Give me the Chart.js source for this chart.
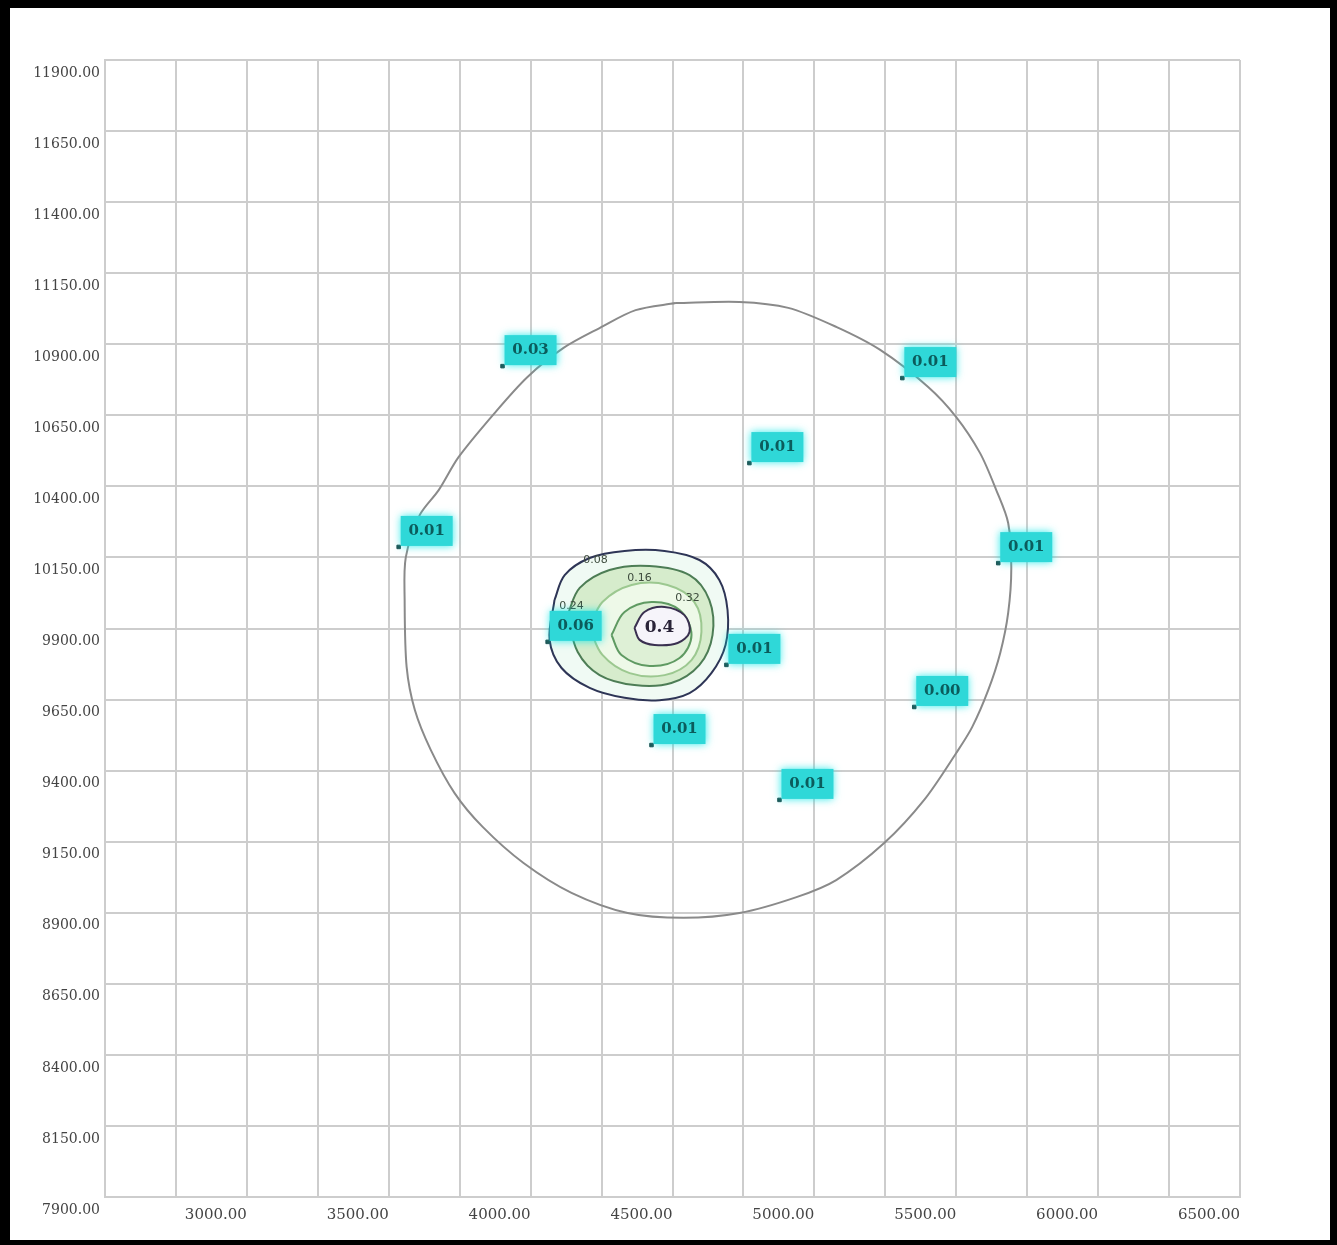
<!DOCTYPE html>
<html>
<head>
<meta charset="utf-8">
<script src="https://cdn.jsdelivr.net/npm/chart.js@4.4.0/dist/chart.umd.min.js"></script>
<style>
  html, body { margin: 0; padding: 0; background: #000; }
  #frame { position: absolute; left: 10px; top: 8px; width: 1320px; height: 1232px; background: #fff; }
</style>
</head>
<body>
<div id="frame"><canvas id="chart" width="1320" height="1232"></canvas></div>
<script>
// axis ranges and tick steps
const xMin = 2500, xMax = 6500, xStep = 250, xLabelStep = 500;
const yMin = 7900, yMax = 11900, yStep = 250;

// boundary circle
const circleX = [4511, 4736, 4908, 5077, 5232, 5401, 5500, 5584, 5641, 5683, 5694, 5683, 5655, 5613, 5556, 5500, 5387, 5246, 5077, 4937,
                 4736, 4539, 4342, 4144, 3975, 3831, 3732, 3648, 3592, 3563, 3556, 3560, 3609, 3676, 3746, 3873, 3989, 4116, 4243, 4370];
const circleY = [11045, 11049, 11028, 10961, 10880, 10750, 10644, 10517, 10387, 10271, 10113, 9955, 9814, 9684, 9553, 9462, 9297, 9145, 9015, 8955,
                 8899, 8882, 8899, 8970, 9075, 9202, 9321, 9473, 9613, 9765, 10000, 10150, 10299, 10387, 10503, 10658, 10785, 10887, 10957, 11020];

// contour rings, outer to inner
const ring1X = [4084, 4120, 4208, 4331, 4472, 4595, 4665, 4694, 4687, 4637, 4560, 4454, 4331, 4208, 4109, 4067];
const ring1Y = [10000, 10088, 10148, 10173, 10173, 10141, 10071, 9965, 9842, 9743, 9673, 9648, 9656, 9691, 9761, 9860];
const ring2X = [4130, 4173, 4278, 4419, 4560, 4630, 4641, 4595, 4496, 4366, 4243, 4166];
const ring2Y = [9947, 10043, 10106, 10120, 10088, 10000, 9877, 9772, 9708, 9701, 9736, 9817];
const ring3X = [4208, 4253, 4356, 4482, 4577, 4602, 4567, 4472, 4349, 4253];
const ring3Y = [9902, 9993, 10053, 10053, 9993, 9888, 9789, 9736, 9743, 9807];
const ring4X = [4285, 4331, 4426, 4525, 4567, 4525, 4419, 4320];
const ring4Y = [9877, 9958, 9993, 9965, 9877, 9796, 9768, 9807];
const ring5X = [4366, 4401, 4472, 4542, 4560, 4518, 4437, 4384];
const ring5Y = [9902, 9958, 9976, 9947, 9888, 9849, 9842, 9860];

const ringLabels = ['0.08', '0.16', '0.24', '0.32', '0.4'];
const ringLabelX = [4229, 4384, 4144, 4553, 4454];
const ringLabelY = [10141, 10078, 9979, 10007, 9902];

// sample points with their values
const pointX = [3901, 5310, 4771, 3535, 5648, 4060, 4690, 5352, 4426, 4877];
const pointY = [10823, 10781, 10482, 10187, 10130, 9853, 9772, 9624, 9490, 9297];
const pointLabels = ['0.03', '0.01', '0.01', '0.01', '0.01', '0.06', '0.01', '0.00', '0.01', '0.01'];

function zip(xs, ys, close) {
  const pts = xs.map((x, i) => ({ x: x, y: ys[i] }));
  if (close) pts.push(pts[0]);
  return pts;
}

// lower order is drawn on top, so inner rings get smaller numbers
function ring(xs, ys, color, fill, order) {
  return { type: 'line', data: zip(xs, ys, true), borderColor: color, borderWidth: 2, order: order,
           pointRadius: 0, tension: 0.35, fill: 'shape', backgroundColor: fill };
}

const labelPlugin = {
  id: 'labels',
  afterDatasetsDraw(chart) {
    const ctx = chart.ctx;
    chart.data.datasets.forEach((ds, di) => {
      const meta = chart.getDatasetMeta(di);
      if (ds.boxLabels) {
        meta.data.forEach((el, i) => {
          const x = el.x + 2, y = el.y - 31;
          ctx.save();
          ctx.shadowColor = 'rgba(0, 230, 230, 0.8)';
          ctx.shadowBlur = 8;
          ctx.fillStyle = '#2fd8d8';
          ctx.fillRect(x, y, 52, 30);
          ctx.restore();
          ctx.save();
          ctx.fillStyle = '#0b5c5c';
          ctx.font = 'bold 15px "DejaVu Serif"';
          ctx.textAlign = 'center';
          ctx.textBaseline = 'middle';
          ctx.fillText(ds.boxLabels[i], x + 26, y + 15);
          ctx.restore();
        });
      }
      if (ds.textLabels) {
        meta.data.forEach((el, i) => {
          const last = i === ds.textLabels.length - 1;
          ctx.save();
          ctx.fillStyle = last ? '#2a2438' : '#3c4a3c';
          ctx.font = last ? 'bold 17px "DejaVu Serif"' : '11px "DejaVu Sans"';
          ctx.textAlign = 'center';
          ctx.textBaseline = 'middle';
          ctx.fillText(ds.textLabels[i], el.x, el.y);
          ctx.restore();
        });
      }
    });
  }
};

const ctx = document.getElementById('chart').getContext('2d');
new Chart(ctx, {
  type: 'scatter',
  data: {
    datasets: [
      { type: 'line', data: zip(circleX, circleY, true), borderColor: '#8a8a8a', borderWidth: 2, order: 10,
        pointRadius: 0, tension: 0.3, fill: false },
      ring(ring1X, ring1Y, '#2e3556', 'rgba(240, 250, 244, 1)', 6),
      ring(ring2X, ring2Y, '#4d7d55', 'rgba(214, 236, 204, 1)', 5),
      ring(ring3X, ring3Y, '#9cc890', 'rgba(238, 249, 232, 1)', 4),
      ring(ring4X, ring4Y, '#5f9a62', 'rgba(222, 240, 214, 1)', 3),
      ring(ring5X, ring5Y, '#3a3050', 'rgba(246, 244, 250, 1)', 2),
      { data: zip(ringLabelX, ringLabelY, false), pointRadius: 0, textLabels: ringLabels, order: 1 },
      { data: zip(pointX, pointY, false), pointRadius: 2.5, pointStyle: 'rect', order: 0,
        backgroundColor: '#1f4f4f', borderColor: '#1f4f4f', boxLabels: pointLabels }
    ]
  },
  options: {
    responsive: false,
    animation: false,
    layout: { padding: { left: 0, top: 52, right: 90, bottom: 0 } },
    plugins: { legend: { display: false }, tooltip: { enabled: false } },
    scales: {
      x: {
        type: 'linear', min: xMin, max: xMax,
        afterFit: (s) => { s.height = 43; },
        grid: { color: '#cdcdcd', lineWidth: 2, drawTicks: false },
        border: { color: '#cdcdcd', width: 2 },
        ticks: {
          stepSize: xStep, autoSkip: false, maxRotation: 0, minRotation: 0,
          align: 'end', padding: 9, color: '#444',
          font: { family: 'DejaVu Serif', size: 15 },
          callback: (v) => (v % xLabelStep === 0 && v !== xMin) ? v.toFixed(2) : ''
        }
      },
      y: {
        type: 'linear', min: yMin, max: yMax,
        afterFit: (s) => { s.width = 95; },
        grid: { color: '#cdcdcd', lineWidth: 2, drawTicks: false },
        border: { color: '#cdcdcd', width: 2 },
        ticks: {
          stepSize: yStep, autoSkip: false, padding: 5, labelOffset: 13, color: '#444',
          font: { family: 'DejaVu Serif', size: 14 },
          callback: (v) => v.toFixed(2)
        }
      }
    }
  },
  plugins: [labelPlugin]
});
</script>
</body>
</html>
